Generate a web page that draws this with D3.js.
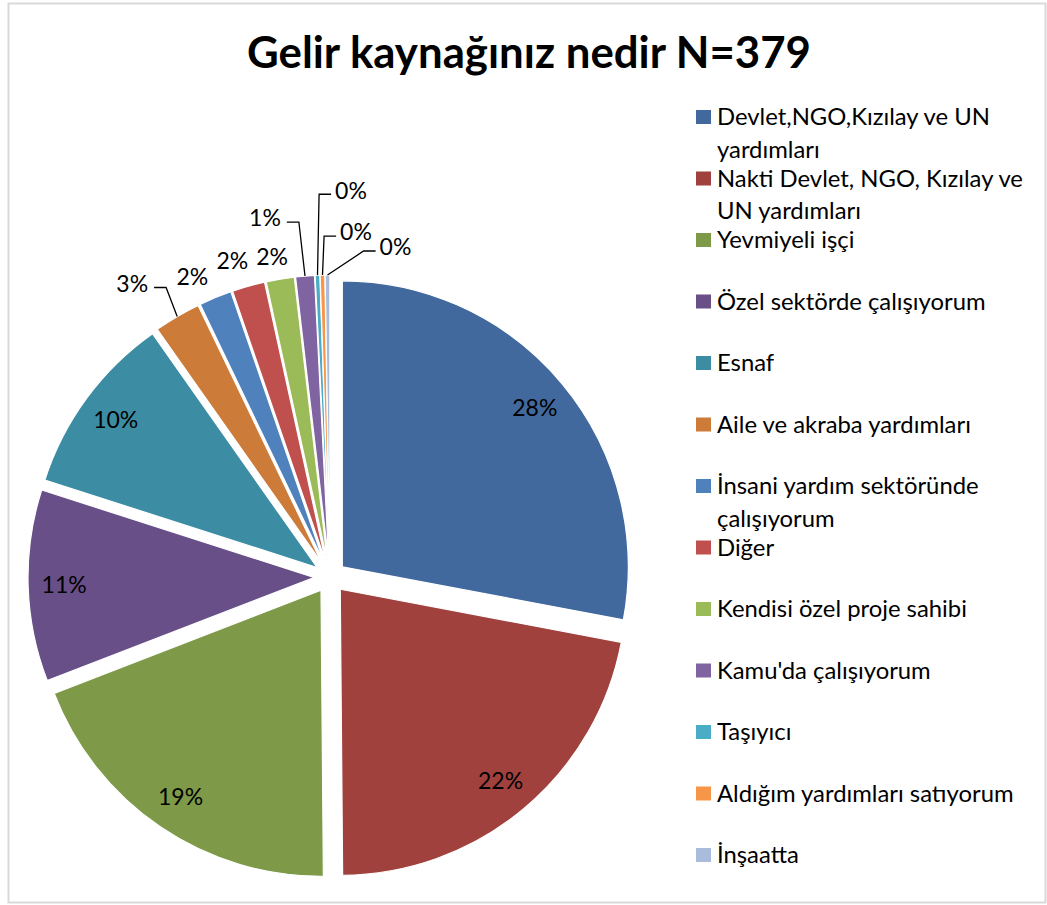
<!DOCTYPE html>
<html>
<head>
<meta charset="utf-8">
<script src="https://cdn.jsdelivr.net/npm/d3@7"></script>
<style>
  html, body { margin: 0; padding: 0; background: #ffffff; }
  svg { display: block; }
</style>
</head>
<body>
<svg id="chart" width="1047" height="905"></svg>
<script>
// ---------------- data ----------------
const chartTitle = "Gelir kaynağınız nedir N=379";
const categories = [
  "Devlet,NGO,Kızılay ve UN yardımları",
  "Nakti Devlet, NGO, Kızılay ve UN yardımları",
  "Yevmiyeli işçi",
  "Özel sektörde çalışıyorum",
  "Esnaf",
  "Aile ve akraba yardımları",
  "İnsani yardım sektöründe çalışıyorum",
  "Diğer",
  "Kendisi özel proje sahibi",
  "Kamu'da çalışıyorum",
  "Taşıyıcı",
  "Aldığım yardımları satıyorum",
  "İnşaatta"
];
const counts = [106, 83, 73, 41, 39, 10, 7, 7, 6, 4, 1, 1, 1];
const colors = ["#41699D", "#A0413E", "#7E9A49", "#684F88", "#3C8DA4", "#CC7B38",
                "#4F81BD", "#C0504D", "#9BBB59", "#8064A2", "#4BACC6", "#F79646", "#A9BCDB"];

// ---------------- layout ----------------
const W = 1047, H = 905;
const cx = 330, cy = 577, R = 286, explode = 16, insideDist = 250;
// label offsets (text centre relative to the slice's outer mid point) for outside labels
const outsideLabels = {
  5: {dx: -45, dy: -33, leader: true},
  6: {dx: -23, dy: -21, leader: false},
  7: {dx: -16, dy: -26, leader: false},
  8: {dx: -8,  dy: -22, leader: false},
  9: {dx: -40, dy: -58, leader: true},
  10: {dx: 33.5, dy: -85, leader: true},
  11: {dx: 33.5, dy: -43, leader: true},
  12: {dx: 68, dy: -28, leader: true}
};
const FONT = "Lato, 'Open Sans', 'DejaVu Sans', sans-serif";
const labelSize = 23;

const svg = d3.select("#chart");

// background + border
svg.append("rect").attr("x", 0).attr("y", 0).attr("width", W).attr("height", H).attr("fill", "#fff");
svg.append("rect").attr("x", 8.5).attr("y", 3.5).attr("width", 1037).attr("height", 899)
  .attr("fill", "#fff").attr("stroke", "#d9d9d9").attr("stroke-width", 2);

// title
const titleEl = svg.append("text")
  .attr("x", 529).attr("y", 68)
  .attr("text-anchor", "middle")
  .attr("font-family", FONT).attr("font-weight", "bold").attr("font-size", 44)
  .attr("fill", "#000")
  .text(chartTitle);
titleEl.attr("textLength", 564).attr("lengthAdjust", "spacingAndGlyphs");

// pie
const total = d3.sum(counts);
const pct = d3.format(".0%");
const pie = d3.pie().value(d => d).sort(null).startAngle(0).endAngle(2 * Math.PI);
const arcs = pie(counts);
const arc = d3.arc().innerRadius(0).outerRadius(R);

const g = svg.append("g").attr("transform", `translate(${cx},${cy})`);

function unit(a) { return [Math.sin(a), -Math.cos(a)]; }

const sliceG = g.selectAll("g.slice").data(arcs).enter().append("g")
  .attr("class", "slice")
  .attr("transform", d => {
    const m = (d.startAngle + d.endAngle) / 2;
    const [ux, uy] = unit(m);
    return `translate(${ux * explode},${uy * explode})`;
  });
sliceG.append("path")
  .attr("d", arc)
  .attr("fill", (d, i) => colors[i])
  .attr("stroke", "#fff").attr("stroke-width", 1.2).attr("stroke-linejoin", "round");

// labels
const labelG = g.append("g");
arcs.forEach((d, i) => {
  const m = (d.startAngle + d.endAngle) / 2;
  const [ux, uy] = unit(m);
  const ax = ux * explode, ay = uy * explode; // apex of the exploded slice
  const txt = pct(d.value / total);
  if (!outsideLabels[i]) {
    labelG.append("text")
      .attr("x", ax + ux * insideDist).attr("y", ay + uy * insideDist)
      .attr("dy", "0.36em")
      .attr("text-anchor", "middle")
      .attr("font-family", FONT).attr("font-size", labelSize).attr("fill", "#000")
      .text(txt);
  } else {
    const o = outsideLabels[i];
    const px = ax + ux * R, py = ay + uy * R; // outer mid point
    const lx = px + o.dx, ly = py + o.dy;
    const t = labelG.append("text")
      .attr("x", lx).attr("y", ly)
      .attr("dy", "0.36em")
      .attr("text-anchor", "middle")
      .attr("font-family", FONT).attr("font-size", labelSize).attr("fill", "#000")
      .text(txt);
    if (o.leader) {
      const hw = t.node().getComputedTextLength() / 2;
      let sx, ex;
      if (o.dx < 0) { sx = lx + hw + 6; ex = sx + 12; }
      else { sx = lx - hw - 4; ex = sx - 12; }
      const yy = ly + 4;
      labelG.append("path")
        .attr("d", d3.line()([[sx, yy], [ex, yy], [px, py]]))
        .attr("fill", "none").attr("stroke", "#000").attr("stroke-width", 1.3);
    }
  }
});

// legend
const legX = 696, legTextX = 717, legY0 = 117, legStep = 61.5, lineH = 32.5, maxW = 318;
const legend = svg.append("g");
// measure scale for condensed look
const probe = legend.append("text").attr("font-family", FONT).attr("font-size", labelSize)
  .text("Devlet,NGO,Kızılay ve UN");
let ratio = 273 / probe.node().getComputedTextLength();
if (!isFinite(ratio) || ratio <= 0) ratio = 1;
probe.remove();

function measure(s) {
  const t = legend.append("text").attr("font-family", FONT).attr("font-size", labelSize).text(s);
  const w = t.node().getComputedTextLength() * ratio;
  t.remove();
  return w;
}
function wrap(s) {
  const words = s.split(" ");
  const lines = [];
  let cur = "";
  words.forEach(w => {
    const test = cur ? cur + " " + w : w;
    if (cur && measure(test) > maxW) { lines.push(cur); cur = w; }
    else cur = test;
  });
  if (cur) lines.push(cur);
  return lines;
}

categories.forEach((c, i) => {
  const y = legY0 + i * legStep;
  legend.append("rect")
    .attr("x", legX).attr("y", y - 7).attr("width", 15).attr("height", 14)
    .attr("fill", colors[i]);
  wrap(c).forEach((line, k) => {
    const t = legend.append("text")
      .attr("x", legTextX).attr("y", y + k * lineH)
      .attr("dy", "0.36em")
      .attr("font-family", FONT).attr("font-size", labelSize).attr("fill", "#000")
      .text(line);
    const w = t.node().getComputedTextLength();
    t.attr("textLength", w * ratio).attr("lengthAdjust", "spacingAndGlyphs");
  });
});
</script>
</body>
</html>
